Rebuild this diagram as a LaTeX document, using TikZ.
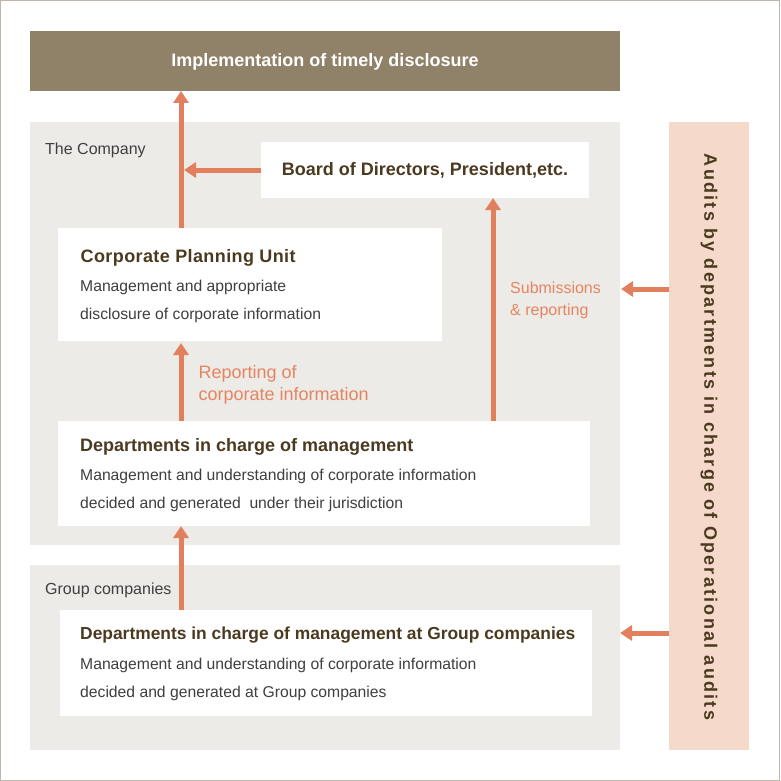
\documentclass[tikz,border=0pt]{standalone}
\usepackage{fontspec}
\setmainfont{Liberation Sans}
\newfontfamily\spacedfont[LetterSpace=12.5]{Liberation Sans}
\usetikzlibrary{arrows.meta}
\definecolor{barc}{HTML}{908169}
\definecolor{greybg}{HTML}{EDEBE7}
\definecolor{auditc}{HTML}{F5D9CB}
\definecolor{arrc}{HTML}{E2805E}
\definecolor{headc}{HTML}{4B3A20}
\definecolor{txtc}{HTML}{3F3F3F}
\definecolor{lblc}{HTML}{E5845F}
\definecolor{bordc}{HTML}{BEB6AA}
\begin{document}
\begin{tikzpicture}[x=1pt,y=-1pt,
  box/.style={anchor=north west, inner sep=0pt, outer sep=0pt, draw=none},
  region/.style={box, fill=greybg},
  whitebox/.style={box, fill=white},
  head/.style={anchor=base west, inner sep=0pt, text=headc, font=\fontsize{18}{22}\selectfont\bfseries},
  desc/.style={anchor=base west, inner sep=0pt, text=txtc, font=\fontsize{15.7}{20}\selectfont},
  lbl/.style={anchor=base west, inner sep=0pt, text=lblc, font=\fontsize{18}{22}\selectfont},
  arr/.style={draw=arrc, line width=5pt, -{Triangle[width=15pt,length=12pt]}}]
\useasboundingbox (0,0) rectangle (780,781);
\draw[bordc, line width=1pt] (0.5,0.5) rectangle (779.5,780.5);

% boxes
\node[box, fill=barc, minimum width=590pt, minimum height=60pt] (bar) at (30,31) {};
\node[anchor=base, inner sep=0pt, text=white, font=\fontsize{18}{22}\selectfont\bfseries] (bartxt) at (325,67) {Implementation of timely disclosure};
\node[region, minimum width=590pt, minimum height=423pt] (company) at (30,122) {};
\node[whitebox, minimum width=328pt, minimum height=56pt] (board) at (261,142) {};
\node[whitebox, minimum width=384pt, minimum height=113pt] (cpu) at (58,228) {};
\node[whitebox, minimum width=532pt, minimum height=105pt] (dept) at (58,421) {};
\node[region, minimum width=590pt, minimum height=185pt] (group) at (30,565) {};
\node[whitebox, minimum width=532pt, minimum height=106pt] (gdept) at (60,610) {};
\node[box, fill=auditc, minimum width=80pt, minimum height=628pt] (audit) at (669,122) {};

% texts
\node[desc, font=\fontsize{16}{20}\selectfont] (tcomp) at (45,154) {The Company};
\node[anchor=base, inner sep=0pt, text=headc, font=\fontsize{18}{22}\selectfont\bfseries] (tboard) at (425,175) {Board of Directors, President,etc.};
\node[head, font=\fontsize{18}{22}\selectfont\bfseries\addfontfeatures{LetterSpace=2.2}] (tcpu) at (80.5,262) {Corporate Planning Unit};
\node[desc] (tcpu1) at (80,291) {Management and appropriate};
\node[desc] (tcpu2) at (80,319) {disclosure of corporate information};
\node[lbl] (trep1) at (198.5,378) {Reporting of};
\node[lbl] (trep2) at (198.5,400) {corporate information};
\node[lbl, font=\fontsize{16}{20}\selectfont] (tsub1) at (510,293.5) {Submissions};
\node[lbl, font=\fontsize{16}{20}\selectfont] (tsub2) at (510,315.5) {\&\ reporting};
\node[head] (tdept) at (80,451) {Departments in charge of management};
\node[desc] (tdept1) at (80,480) {Management and understanding of corporate information};
\node[desc] (tdept2) at (80,508) {decided and generated\ \ under their jurisdiction};
\node[desc, font=\fontsize{16}{20}\selectfont] (tgroup) at (45,594) {Group companies};
\node[head, font=\fontsize{17.4}{22}\selectfont\bfseries] (tgd) at (80,639.5) {Departments in charge of management at Group companies};
\node[desc] (tgd1) at (80,669) {Management and understanding of corporate information};
\node[desc] (tgd2) at (80,697) {decided and generated at Group companies};
\node[rotate=-90, inner sep=0pt, text=headc, font=\spacedfont\bfseries\fontsize{18}{22}\selectfont] (taudit) at ([yshift=-1pt]audit.center) {Audits by departments in charge of Operational audits};

% connectors
\coordinate (xa) at (181,0);
\coordinate (xb) at (493,0);
\coordinate (ya) at (0,170);
\coordinate (yb) at (0,289);
\coordinate (yc) at (0,633);
\coordinate (j1) at (184,170);
\draw[arr] (cpu.north -| xa) -- (bar.south -| xa);
\draw[arr] (board.west |- ya) -- (j1);
\draw[arr, shorten >=2pt] (dept.north -| xa) -- (cpu.south -| xa);
\draw[arr] (dept.north -| xb) -- (board.south -| xb);
\draw[arr] (gdept.north -| xa) -- (dept.south -| xa);
\draw[arr, shorten >=1pt] (audit.west |- yb) -- (company.east |- yb);
\draw[arr] (audit.west |- yc) -- (group.east |- yc);
\end{tikzpicture}
\end{document}
